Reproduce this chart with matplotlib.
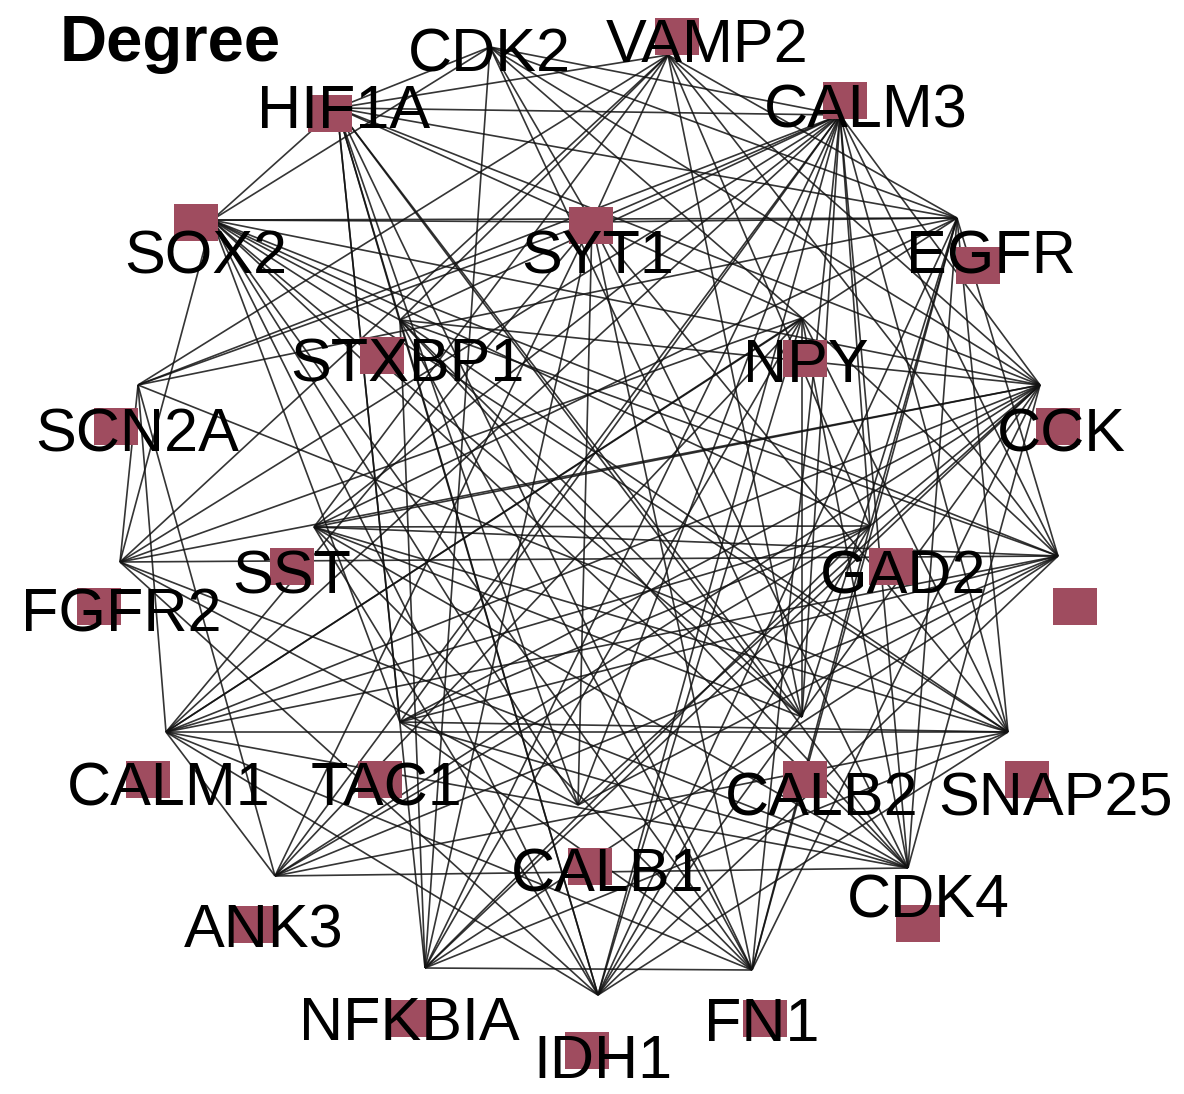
import matplotlib
matplotlib.use("Agg")
import matplotlib.pyplot as plt
from matplotlib.patches import Rectangle

# ---- data -------------------------------------------------------------
title = "Degree"

# node names
nodes = ["CDK2", "VAMP2", "CALM3", "EGFR", "CCK", "X", "SNAP25", "CDK4", "FN1",
         "IDH1", "NFKBIA", "ANK3", "CALM1", "FGFR2", "SCN2A", "SOX2", "HIF1A",
         "SYT1", "NPY", "GAD2", "CALB2", "CALB1", "TAC1", "SST", "STXBP1"]

# edge anchor points of the layout (pixel space)
anchor_x = [490, 668, 840, 957, 1040, 1058, 1008, 908, 752,
            598, 425, 275, 166, 120, 138, 212, 337,
            592, 802, 870, 802, 578, 400, 314, 400]
anchor_y = [47, 55, 115, 218, 385, 556, 732, 868, 970,
            995, 968, 876, 732, 562, 385, 220, 108,
            222, 318, 526, 717, 805, 722, 527, 320]

# node square centres (None = no visible square)
square_x = [None, 677, 845, 978, 1058, 1075, 1027, 918, 765,
            587, 410, 254, 148, 99, 116, 196, 330,
            591, 805, 891, 805, 590, 380, 292, 382]
square_y = [None, 36, 100, 265, 426, 606, 779, 923, 1018,
            1050, 1018, 924, 779, 606, 426, 222, 113,
            225, 358, 566, 779, 866, 779, 566, 355]

# label text, centre x and baseline y
labels = ["CDK2", "VAMP2", "CALM3", "EGFR", "CCK", "", "SNAP25", "CDK4", "FN1",
          "IDH1", "NFKBIA", "ANK3", "CALM1", "FGFR2", "SCN2A", "SOX2", "HIF1A",
          "SYT1", "NPY", "GAD2", "CALB2", "CALB1", "TAC1", "SST", "STXBP1"]
label_x = [489, 707, 866, 991, 1061, 0, 1056, 928, 762,
           603, 409, 264, 169, 121, 137, 206, 344,
           598, 806, 903, 822, 608, 387, 292, 407]
label_y = [72, 62, 128, 273, 452, 0, 815, 918, 1041,
           1078, 1040, 948, 805, 631, 452, 273, 128,
           273, 382, 593, 815, 892, 805, 593, 382]

edges = [
    # HIF1A
    ("HIF1A", "CDK2"), ("HIF1A", "CALM3"), ("HIF1A", "EGFR"), ("HIF1A", "CCK"),
    ("HIF1A", "NPY"), ("HIF1A", "TAC1"), ("HIF1A", "NFKBIA"), ("HIF1A", "IDH1"),
    ("HIF1A", "CALB1"), ("HIF1A", "FN1"), ("HIF1A", "CDK4"), ("HIF1A", "CALB2"),
    ("HIF1A", "SOX2"), ("HIF1A", "VAMP2"), ("HIF1A", "STXBP1"),
    # SOX2
    ("SOX2", "CDK2"), ("SOX2", "SYT1"), ("SOX2", "CCK"), ("SOX2", "X"),
    ("SOX2", "SNAP25"), ("SOX2", "CALB2"), ("SOX2", "FN1"), ("SOX2", "CALB1"),
    ("SOX2", "IDH1"), ("SOX2", "TAC1"), ("SOX2", "FGFR2"), ("SOX2", "STXBP1"),
    ("SOX2", "GAD2"), ("SOX2", "CDK4"),
    # CDK2
    ("CDK2", "CALM3"), ("CDK2", "CCK"), ("CDK2", "NPY"), ("CDK2", "CALB2"),
    ("CDK2", "NFKBIA"), ("CDK2", "EGFR"), ("CDK2", "SYT1"),
    # VAMP2
    ("VAMP2", "SCN2A"), ("VAMP2", "STXBP1"), ("VAMP2", "GAD2"), ("VAMP2", "CALB2"),
    ("VAMP2", "SYT1"), ("VAMP2", "CCK"), ("VAMP2", "X"), ("VAMP2", "SST"),
    ("VAMP2", "FGFR2"), ("VAMP2", "EGFR"),
    # CALM3
    ("CALM3", "SCN2A"), ("CALM3", "FGFR2"), ("CALM3", "SYT1"), ("CALM3", "CALM1"),
    ("CALM3", "STXBP1"), ("CALM3", "TAC1"), ("CALM3", "ANK3"), ("CALM3", "CALB1"),
    ("CALM3", "IDH1"), ("CALM3", "FN1"), ("CALM3", "CALB2"), ("CALM3", "GAD2"),
    ("CALM3", "CDK4"), ("CALM3", "SNAP25"), ("CALM3", "X"), ("CALM3", "CCK"),
    ("CALM3", "NFKBIA"), ("CALM3", "SST"),
    # EGFR
    ("EGFR", "SYT1"), ("EGFR", "SCN2A"), ("EGFR", "CALM1"), ("EGFR", "SNAP25"),
    ("EGFR", "CDK4"), ("EGFR", "X"), ("EGFR", "CALB2"), ("EGFR", "FN1"),
    ("EGFR", "GAD2"), ("EGFR", "IDH1"), ("EGFR", "SST"), ("EGFR", "SOX2"),
    # CCK
    ("CCK", "STXBP1"), ("CCK", "SST"), ("CCK", "TAC1"), ("CCK", "CALM1"),
    ("CCK", "ANK3"), ("CCK", "CALB1"), ("CCK", "NFKBIA"), ("CCK", "IDH1"),
    ("CCK", "FN1"), ("CCK", "CDK4"), ("CCK", "GAD2"), ("CCK", "FGFR2"),
    # unlabeled node
    ("X", "FGFR2"), ("X", "STXBP1"), ("X", "SST"), ("X", "TAC1"), ("X", "CALM1"),
    ("X", "ANK3"), ("X", "CALB1"), ("X", "NFKBIA"), ("X", "IDH1"), ("X", "NPY"),
    # SNAP25
    ("SNAP25", "CALM1"), ("SNAP25", "TAC1"), ("SNAP25", "SCN2A"), ("SNAP25", "STXBP1"),
    ("SNAP25", "SST"), ("SNAP25", "ANK3"), ("SNAP25", "NFKBIA"), ("SNAP25", "IDH1"),
    ("SNAP25", "NPY"), ("SNAP25", "SYT1"),
    # CDK4
    ("CDK4", "ANK3"), ("CDK4", "FGFR2"), ("CDK4", "CALM1"), ("CDK4", "TAC1"),
    ("CDK4", "SST"), ("CDK4", "STXBP1"), ("CDK4", "SYT1"), ("CDK4", "NPY"),
    # FN1
    ("FN1", "NFKBIA"), ("FN1", "SST"), ("FN1", "STXBP1"), ("FN1", "SYT1"),
    ("FN1", "CALM1"), ("FN1", "GAD2"), ("FN1", "TAC1"),
    # IDH1
    ("IDH1", "FGFR2"), ("IDH1", "CALM1"), ("IDH1", "STXBP1"), ("IDH1", "SST"),
    ("IDH1", "GAD2"), ("IDH1", "NPY"),
    # NFKBIA
    ("NFKBIA", "SYT1"), ("NFKBIA", "NPY"), ("NFKBIA", "GAD2"), ("NFKBIA", "STXBP1"),
    # ANK3
    ("ANK3", "CALM1"), ("ANK3", "SCN2A"), ("ANK3", "SYT1"), ("ANK3", "NPY"),
    ("ANK3", "GAD2"),
    # left side
    ("SCN2A", "SYT1"), ("SCN2A", "FGFR2"), ("SCN2A", "CALM1"),
    ("FGFR2", "NPY"), ("FGFR2", "CALB1"),
    ("CALM1", "SYT1"), ("CALM1", "GAD2"), ("CALM1", "NPY"),
    # inner
    ("NPY", "CALB2"), ("SST", "GAD2"), ("TAC1", "GAD2"), ("STXBP1", "CALB2"),
    ("SYT1", "CALB1"), ("SST", "CALB2"),
]

# ---- drawing ----------------------------------------------------------
W, H = 1184, 1094
fig = plt.figure(figsize=(W / 100, H / 100), dpi=100)
ax = fig.add_axes([0, 0, 1, 1])
ax.set_xlim(0, W)
ax.set_ylim(H, 0)
ax.axis("off")

idx = {n: i for i, n in enumerate(nodes)}
seen = set()
for a, b in edges:
    key = tuple(sorted((a, b)))
    if key in seen:
        continue
    seen.add(key)
    i, j = idx[a], idx[b]
    ax.plot([anchor_x[i], anchor_x[j]], [anchor_y[i], anchor_y[j]],
            color="#111111", lw=1.2, alpha=0.85, solid_capstyle="butt", zorder=1)

SQ_W, SQ_H = 44, 37
for sx, sy in zip(square_x, square_y):
    if sx is None:
        continue
    ax.add_patch(Rectangle((sx - SQ_W / 2, sy - SQ_H / 2), SQ_W, SQ_H,
                           facecolor="#9f4c5f", edgecolor="none", zorder=2))

for t, lx, ly in zip(labels, label_x, label_y):
    if not t:
        continue
    ax.text(lx, ly, t, ha="center", va="baseline", fontsize=44,
            family=["Liberation Sans", "DejaVu Sans"], color="black", zorder=3)

ax.text(60, 61, title, ha="left", va="baseline", fontsize=47, fontweight="bold",
        family=["Liberation Sans", "DejaVu Sans"], color="black", zorder=3)

fig.savefig("out.png", dpi=100)
